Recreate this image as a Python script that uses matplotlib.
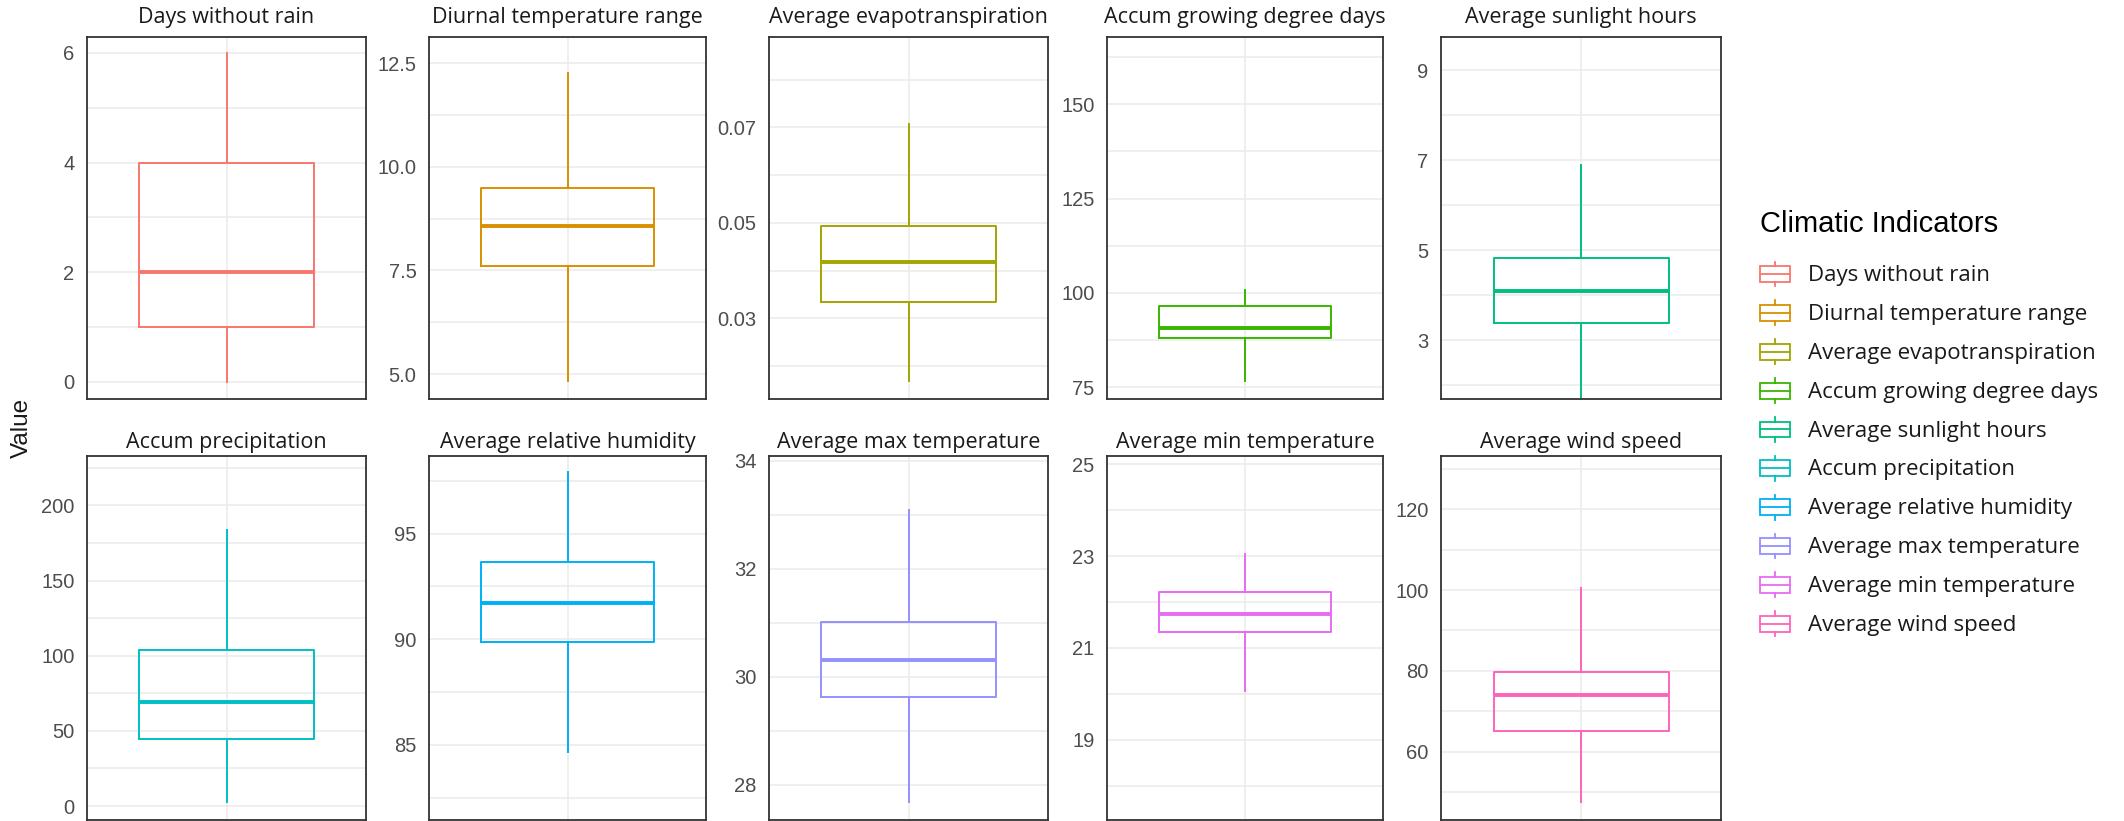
import matplotlib
matplotlib.use("Agg")
import matplotlib.pyplot as plt
from matplotlib.legend_handler import HandlerBase
from matplotlib.patches import Rectangle
from matplotlib.lines import Line2D

# ---------------- data ----------------
indicators = ["Days without rain", "Diurnal temperature range", "Average evapotranspiration",
              "Accum growing degree days", "Average sunlight hours", "Accum precipitation",
              "Average relative humidity", "Average max temperature", "Average min temperature",
              "Average wind speed"]
colors = ["#F8766D", "#D89000", "#A3A500", "#39B600", "#00BF7D",
          "#00BFC4", "#00B0F6", "#9590FF", "#E76BF3", "#FF62BC"]

whisker_low = [0.0, 4.83, 0.0169, 76.7, 1.55, 2.5, 84.68, 27.68, 20.07, 47.4]
q1 =          [1.0, 7.61, 0.0335, 88.0, 3.38, 44.3, 89.86, 29.62, 21.35, 65.1]
medians =     [2.0, 8.58, 0.0417, 90.8, 4.09, 69.0, 91.74, 30.32, 21.73, 74.0]
q3 =          [4.0, 9.49, 0.04925, 96.5, 4.84, 104.0, 93.67, 31.01, 22.21, 79.6]
whisker_high = [6.0, 12.27, 0.0707, 100.9, 6.90, 183.5, 97.92, 33.09, 23.05, 100.6]

y_limits = [(-0.31, 6.29), (4.40, 13.13), (0.0131, 0.0889), (71.9, 167.8), (1.70, 9.74),
            (-9.3, 232.9), (81.44, 98.68), (27.35, 34.09), (17.25, 25.18), (43.05, 133.2)]
major_ticks = [[0, 2, 4, 6], [5.0, 7.5, 10.0, 12.5], [0.03, 0.05, 0.07], [75, 100, 125, 150],
               [3, 5, 7, 9], [0, 50, 100, 150, 200], [85, 90, 95], [28, 30, 32, 34],
               [19, 21, 23, 25], [60, 80, 100, 120]]
tick_labels = [["0", "2", "4", "6"], ["5.0", "7.5", "10.0", "12.5"], ["0.03", "0.05", "0.07"],
               ["75", "100", "125", "150"], ["3", "5", "7", "9"], ["0", "50", "100", "150", "200"],
               ["85", "90", "95"], ["28", "30", "32", "34"], ["19", "21", "23", "25"],
               ["60", "80", "100", "120"]]
minor_ticks = [[1, 3, 5], [6.25, 8.75, 11.25], [0.02, 0.04, 0.06, 0.08], [87.5, 112.5, 137.5, 162.5],
               [2, 4, 6, 8], [25, 75, 125, 175, 225], [82.5, 87.5, 92.5, 97.5], [29, 31, 33],
               [18, 20, 22, 24], [50, 70, 90, 110, 130]]

# ---------------- layout ----------------
W, H = 2124, 821
fig = plt.figure(figsize=(W / 100, H / 100), dpi=100)
fig.patch.set_facecolor("white")

cols_px = [(87, 366), (429, 706), (769, 1048), (1107, 1383), (1441, 1721)]
rows_px = [(37, 399), (456, 820)]
title_pads = [10.0, 6]

TITLE_FONT = ["Open Sans", "DejaVu Sans"]
TICK_FONT = ["Liberation Sans", "DejaVu Sans"]

for i, name in enumerate(indicators):
    r, c = divmod(i, 5)
    x0, x1 = cols_px[c]
    y0, y1 = rows_px[r]
    ax = fig.add_axes([x0 / W, 1 - y1 / H, (x1 - x0) / W, (y1 - y0) / H])
    stats = [dict(whislo=whisker_low[i], q1=q1[i], med=medians[i], q3=q3[i],
                  whishi=whisker_high[i], label=name)]
    col = colors[i]
    ax.bxp(stats, positions=[1], widths=0.75, showfliers=False, showcaps=False,
           boxprops=dict(color=col, linewidth=1.4),
           whiskerprops=dict(color=col, linewidth=1.4),
           medianprops=dict(color=col, linewidth=2.8),
           zorder=3)
    ax.set_xlim(0.4, 1.6)
    ax.set_ylim(*y_limits[i])
    ax.set_yticks(major_ticks[i])
    ax.set_yticklabels(tick_labels[i])
    ax.set_yticks(minor_ticks[i], minor=True)
    ax.set_xticks([1])
    ax.set_xticklabels([])
    ax.grid(True, which="major", color="#EBEBEB", linewidth=1.1, zorder=0)
    ax.grid(True, which="minor", axis="y", color="#EBEBEB", linewidth=1.1, zorder=0)
    ax.set_axisbelow(True)
    ax.tick_params(axis="both", which="both", length=0)
    ax.tick_params(axis="y", pad=9, labelsize=14.5, labelcolor="#4D4D4D")
    for lab in ax.get_yticklabels():
        lab.set_family(TICK_FONT)
    for sp in ax.spines.values():
        sp.set_color("#333333")
        sp.set_linewidth(1.3)
        sp.set_zorder(5)
    ax.set_title(name, fontsize=15.5, color="#1A1A1A", family=TITLE_FONT, pad=title_pads[r])

fig.text(22 / W, 1 - 428 / H, "Value", rotation=90, ha="center", va="center",
         fontsize=17.5, color="#1A1A1A", family=TICK_FONT)


# ---------------- legend ----------------
class BoxHandler(HandlerBase):
    def create_artists(self, legend, orig_handle, xdescent, ydescent, width, height, fontsize, trans):
        col = orig_handle.get_color()
        x = -xdescent
        y = -ydescent
        bh = height * 0.64
        by = y + (height - bh) / 2
        rect = Rectangle((x, by), width, bh, facecolor="white", edgecolor=col, lw=1.3, transform=trans)
        med = Line2D([x, x + width], [y + height / 2] * 2, color=col, lw=1.3, transform=trans)
        wt = Line2D([x + width / 2] * 2, [by + bh, y + height], color=col, lw=1.3, transform=trans)
        wb = Line2D([x + width / 2] * 2, [y, by], color=col, lw=1.3, transform=trans)
        return [rect, med, wt, wb]


handles = [Line2D([], [], color=cl) for cl in colors]
leg = fig.legend(handles, indicators, loc="upper left", bbox_to_anchor=(1760 / W, 1 - 210 / H),
                 frameon=False, handler_map={Line2D: BoxHandler()},
                 fontsize=15.5,
                 handlelength=1.4, handleheight=1.4, labelspacing=0.65, handletextpad=0.85,
                 borderaxespad=0, borderpad=0, alignment="left",
                 title="Climatic Indicators", title_fontsize=21)
ttl = leg.get_title()
ttl.set_family(TICK_FONT)
ttl.set_fontsize(21)
ttl.set_color("#000000")
for t in leg.get_texts():
    t.set_family(TITLE_FONT)
    t.set_fontsize(16)
    t.set_color("#1A1A1A")
leg._legend_box.sep = 17

fig.savefig("out.png", dpi=100, facecolor="white")
